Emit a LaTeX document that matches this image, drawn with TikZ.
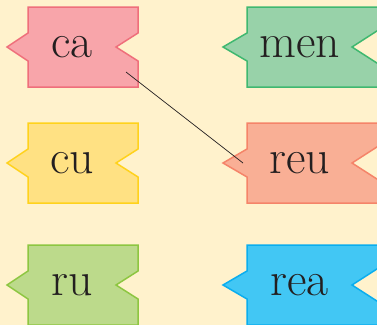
\documentclass[tikz,border=0pt]{standalone}
\usepackage{tikz}
\definecolor{tagbg}{HTML}{FFF2CC}
\definecolor{tagink}{HTML}{231F20}
\definecolor{capink}{HTML}{F8A5AA}
\definecolor{linecapink}{HTML}{EF6F7B}
\definecolor{cuyellow}{HTML}{FFE183}
\definecolor{linecuyellow}{HTML}{FFD21C}
\definecolor{rugreen}{HTML}{BCDA8B}
\definecolor{linerugreen}{HTML}{8DC641}
\definecolor{mengreen}{HTML}{98D2A9}
\definecolor{linemengreen}{HTML}{3FB870}
\definecolor{reusalmon}{HTML}{F9AF95}
\definecolor{linereusalmon}{HTML}{F58469}
\definecolor{reablue}{HTML}{42C7F4}
\definecolor{linereablue}{HTML}{0AAEEF}

\begin{document}
\begin{tikzpicture}[x=1bp, y=-1bp,
  tagtext/.style={font=\fontsize{48}{52}\selectfont, text=tagink, inner sep=0pt,
    text height=20.5bp, text depth=0pt},
  tagedge/.style={line width=1.5bp, line join=miter}]

\useasboundingbox (0,0) rectangle (377,325);
\fill[tagbg] (0,0) rectangle (377,325);
\clip (0,0) rectangle (377,325);

% tags: name / left / right / middle / tip / notch / opening / colour
\foreach \nm/\l/\r/\m/\tip/\nt/\op/\col in {
    ca/28/138/47/7/116/14/capink,
    cu/28/138/163/7/116/14/cuyellow,
    ru/28/138/285/7/116/14/rugreen,
    men/247/380/47/223/352/18/mengreen,
    reu/247/380/163/223/352/18/reusalmon,
    rea/247/380/285/223/352/18/reablue}{
  \draw[tagedge, draw=line\col, fill=\col]
    (\l,\m-40) -- (\r,\m-40) -- (\r,\m-\op) -- (\nt,\m) -- (\r,\m+\op)
    -- (\r,\m+40) -- (\l,\m+40) -- (\l,\m+14) -- (\tip,\m) -- (\l,\m-14) -- cycle;
  \node[tagtext] (\nm) at ({(\l+\nt)/2},\m) {\nm};
}

% matching line
\draw[tagink, line width=0.7bp] ([shift={(54,25)}]ca.center) -- ([shift={(-56.5,0)}]reu.center);

\end{tikzpicture}
\end{document}
